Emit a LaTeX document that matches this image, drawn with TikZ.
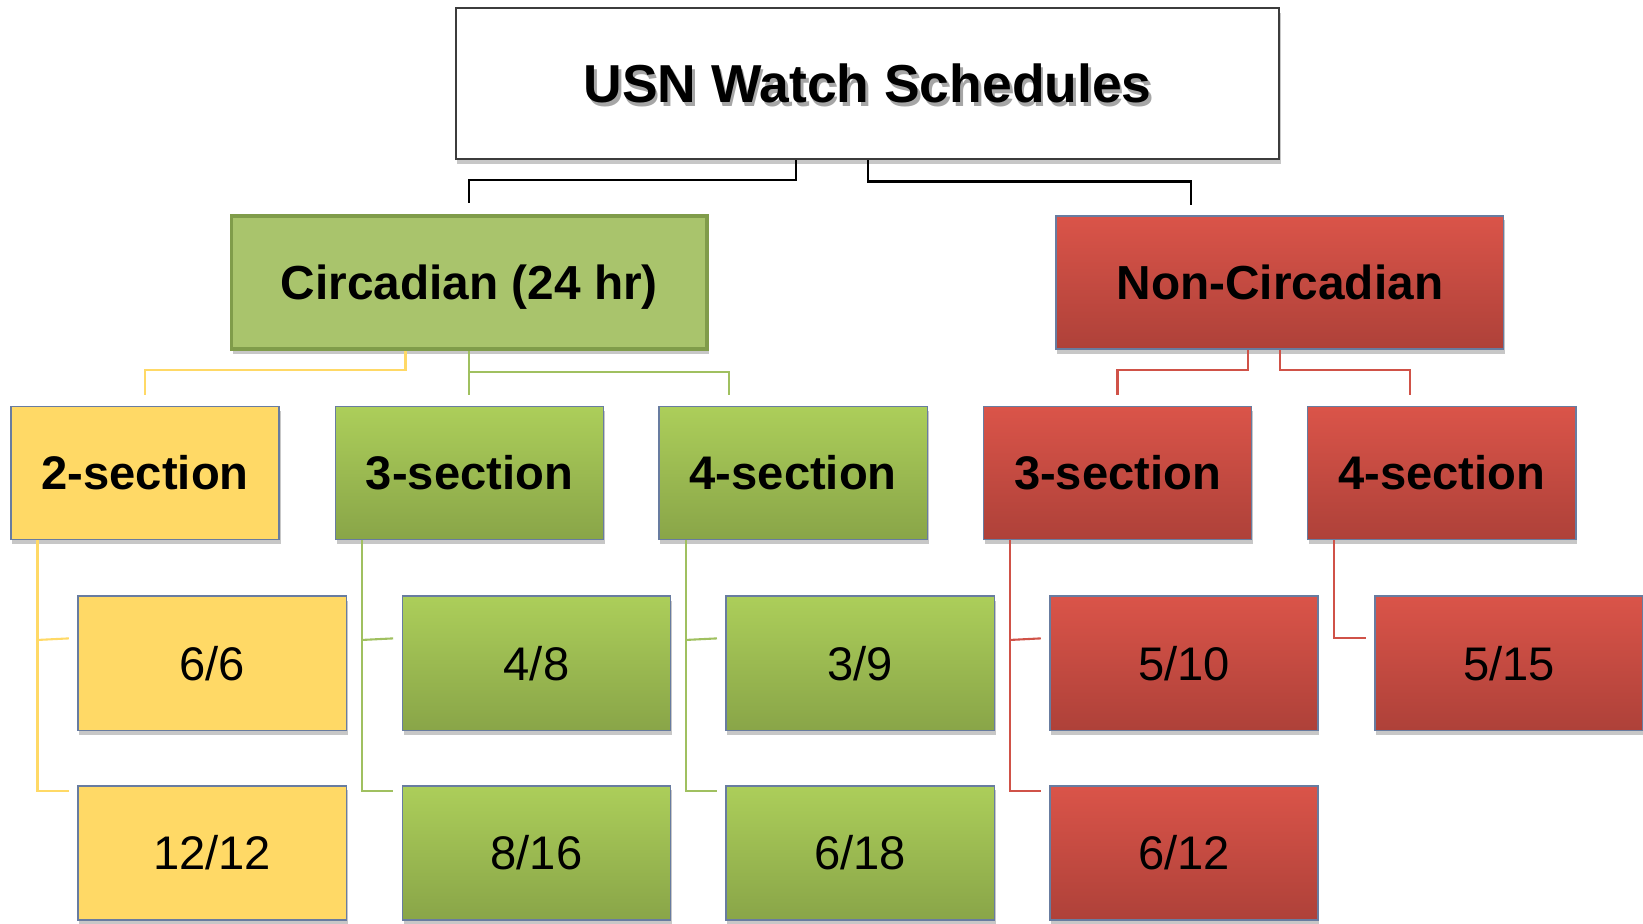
\documentclass[tikz,border=0pt]{standalone}
\usepackage{fontspec}
\setmainfont{Liberation Sans}
\usetikzlibrary{calc,shadows}
\definecolor{bordc}{RGB}{104,124,160}
\definecolor{yelc}{RGB}{255,217,102}
\definecolor{grnT}{RGB}{172,206,90}
\definecolor{grnB}{RGB}{137,165,72}
\definecolor{grnL}{RGB}{160,192,96}
\definecolor{circF}{RGB}{169,196,108}
\definecolor{circD}{RGB}{128,156,74}
\definecolor{redT}{RGB}{218,84,73}
\definecolor{redB}{RGB}{174,65,57}
\definecolor{redL}{RGB}{208,82,72}
\definecolor{topD}{RGB}{60,60,60}
\newcommand{\shadowtext}[1]{\makebox[0pt][l]{\hspace{1.3pt}\raisebox{-1.8pt}[0pt][0pt]{\color{black!35}#1}}#1}
\begin{document}
\begin{tikzpicture}[x=0.5pt,y=-0.5pt,
  shad/.style={drop shadow={shadow xshift=0.6pt,shadow yshift=-2.2pt,opacity=0.22,fill=black}},
  basebox/.style={draw=bordc,line width=0.75pt,inner sep=0pt,shad},
  secbox/.style={basebox,minimum width=128pt,minimum height=63.5pt,font=\fontsize{22.5}{27}\selectfont\bfseries},
  leafbox/.style={basebox,minimum width=128pt,minimum height=64pt,font=\fontsize{22.5}{27}\selectfont},
  yelfill/.style={fill=yelc},
  grnfill/.style={top color=grnT,bottom color=grnB},
  redfill/.style={top color=redT,bottom color=redB},
  blkln/.style={draw=black,line width=1pt},
  yelln/.style={draw=yelc,line width=1pt},
  grnln/.style={draw=grnL,line width=1pt},
  redln/.style={draw=redL,line width=1pt},
  titletext/.style={font=\fontsize{25.5}{30}\selectfont\bfseries,inner sep=0pt}
]
\useasboundingbox (0,0) rectangle (1568,881);

% top box
\node[draw=topD,line width=0.9pt,fill=white,minimum width=393pt,minimum height=72pt,inner sep=0pt,shad] (top) at (828,80) {};
\node[titletext] (title) at (top.center) {\shadowtext{USN Watch Schedules}};

% level 1
\node[basebox,draw=circD,line width=1.8pt,fill=circF,minimum width=227pt,minimum height=63.5pt,text depth=0pt,font=\fontsize{22.8}{27}\selectfont\bfseries] (circ) at (448,269.5) {Circadian (24 hr)};
\node[basebox,redfill,minimum width=213.5pt,minimum height=63.5pt,font=\fontsize{22.8}{27}\selectfont\bfseries] (nc) at (1221.5,269.5) {Non-Circadian};

% level 2
\node[secbox,yelfill] (s2) at (138.5,451.5) {2-section};
\node[secbox,grnfill] (s3) at (448,451.5) {3-section};
\node[secbox,grnfill] (s4) at (757,451.5) {4-section};
\node[secbox,redfill] (n3) at (1066.5,451.5) {3-section};
\node[secbox,redfill] (n4) at (1376,451.5) {4-section};

% level 3
\node[leafbox,yelfill] (a66) at (202.5,633) {6/6};
\node[leafbox,yelfill] (a1212) at (202.5,814) {12/12};
\node[leafbox,grnfill] (b48) at (512,633) {4/8};
\node[leafbox,grnfill] (b816) at (512,814) {8/16};
\node[leafbox,grnfill] (c39) at (821,633) {3/9};
\node[leafbox,grnfill] (c618) at (821,814) {6/18};
\node[leafbox,redfill] (d510) at (1130,633) {5/10};
\node[leafbox,redfill] (d612) at (1130,814) {6/12};
\node[leafbox,redfill] (e515) at (1440,633) {5/15};

% connectors from top
\draw[blkln] ($(top.south)+(-68,0)$) |- ($(circ.north)+(0,-32)$) -- ($(circ.north)+(0,-10)$);
\draw[blkln] (top.south) |- ($(nc.north)+(-84.5,-32)$) -- ($(nc.north)+(-84.5,-10)$);

% connectors from Circadian
\draw[yelln] ($(circ.south)+(-61,0)$) |- ($(s2.north)+(0,-34)$) -- ($(s2.north)+(0,-10)$);
\draw[grnln] (circ.south) -- ($(s3.north)+(0,-10)$);
\draw[grnln] ($(circ.south)+(0,20)$) -| ($(s4.north)+(-61,-10)$);

% connectors from Non-Circadian
\draw[redln] ($(nc.south)+(-30.5,0)$) |- ($(n3.north)+(0,-34)$) -- ($(n3.north)+(0,-10)$);
\draw[redln] (nc.south) |- ($(n4.north)+(-30,-34)$) -- ($(n4.north)+(-30,-10)$);

% child connectors
\draw[yelln] ($(s2.south west)+(26,0)$) |- ($(a1212.north west)+(-8,6)$);
\draw[yelln] ($(s2.south west)+(26,95)$) -- ($(a66.north west)+(-8,41)$);
\draw[grnln] ($(s3.south west)+(26,0)$) |- ($(b816.north west)+(-8,6)$);
\draw[grnln] ($(s3.south west)+(26,95)$) -- ($(b48.north west)+(-8,41)$);
\draw[grnln] ($(s4.south west)+(26,0)$) |- ($(c618.north west)+(-8,6)$);
\draw[grnln] ($(s4.south west)+(26,95)$) -- ($(c39.north west)+(-8,41)$);
\draw[redln] ($(n3.south west)+(26,0)$) |- ($(d612.north west)+(-8,6)$);
\draw[redln] ($(n3.south west)+(26,95)$) -- ($(d510.north west)+(-8,41)$);
\draw[redln] ($(n4.south west)+(26,0)$) |- ($(e515.north west)+(-8,41)$);
\end{tikzpicture}
\end{document}
